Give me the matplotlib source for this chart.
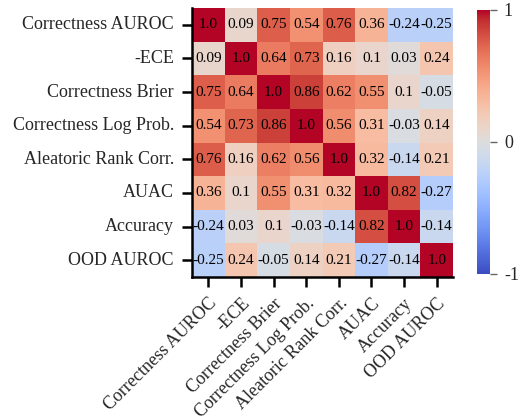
import numpy as np
import matplotlib.pyplot as plt
import seaborn as sns

sns.set_style('ticks')
plt.rcParams['font.family'] = ['Liberation Serif', 'DejaVu Serif']

metrics = ['Correctness AUROC', '-ECE', 'Correctness Brier', 'Correctness Log Prob.',
           'Aleatoric Rank Corr.', 'AUAC', 'Accuracy', 'OOD AUROC']
corr = np.array([
    [1.0, 0.09, 0.75, 0.54, 0.76, 0.36, -0.24, -0.25],
    [0.09, 1.0, 0.64, 0.73, 0.16, 0.1, 0.03, 0.24],
    [0.75, 0.64, 1.0, 0.86, 0.62, 0.55, 0.1, -0.05],
    [0.54, 0.73, 0.86, 1.0, 0.56, 0.31, -0.03, 0.14],
    [0.76, 0.16, 0.62, 0.56, 1.0, 0.32, -0.14, 0.21],
    [0.36, 0.1, 0.55, 0.31, 0.32, 1.0, 0.82, -0.27],
    [-0.24, 0.03, 0.1, -0.03, -0.14, 0.82, 1.0, -0.14],
    [-0.25, 0.24, -0.05, 0.14, 0.21, -0.27, -0.14, 1.0],
])
labels = np.array([[str(round(v, 2)) for v in row] for row in corr])

fig = plt.figure(figsize=(5.3, 4.17), dpi=100)
ax = fig.add_axes([192/530, 1-277/417, 261/530, 269/417])
cax = fig.add_axes([477/530, 1-274/417, 13/530, 264/417])

sns.heatmap(corr, ax=ax, cbar_ax=cax, cmap='coolwarm', vmin=-1, vmax=1,
            annot=labels, fmt='', annot_kws={'fontsize': 11, 'color': 'black'},
            xticklabels=metrics, yticklabels=metrics,
            cbar_kws={'ticks': [-1, 0, 1]})

for s in ['left', 'bottom']:
    ax.spines[s].set_visible(True)
    ax.spines[s].set_linewidth(1.8)
    ax.spines[s].set_color('black')
ax.tick_params(axis='both', length=7, width=1.8, labelsize=13, color='black', pad=6)
ax.set_xticklabels(metrics, rotation=45, ha='right', rotation_mode='anchor')
ax.set_yticklabels(metrics, rotation=0)

cax.tick_params(length=5, width=1, labelsize=13, color='0.4', pad=5)
cax.set_yticklabels(['-1', '0', '1'])

fig.savefig('out.png', dpi=100)
